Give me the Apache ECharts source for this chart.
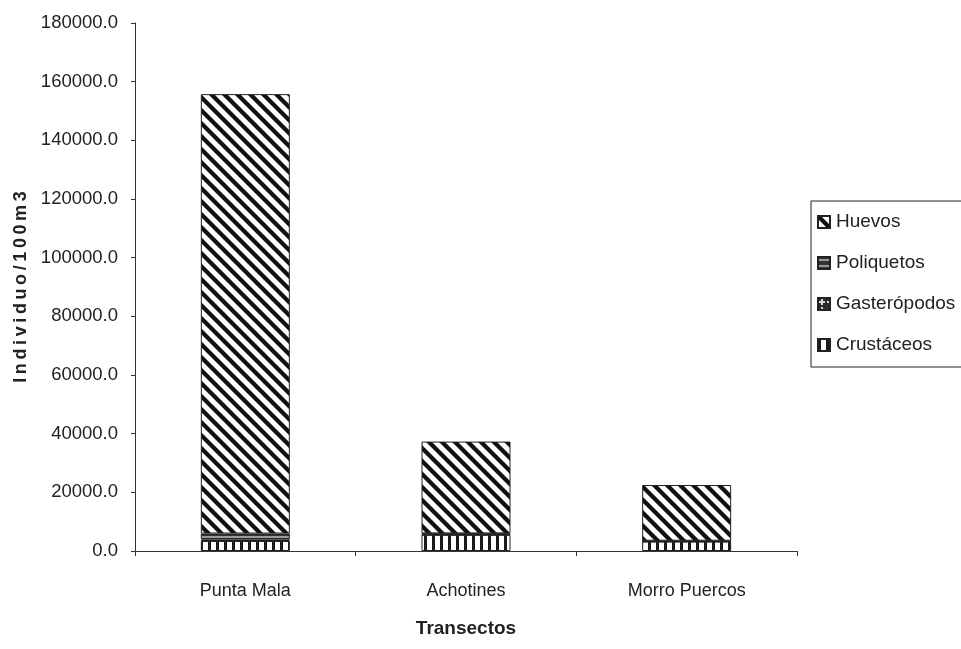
<!DOCTYPE html>
<html>
<head>
<meta charset="utf-8">
<script src="https://cdn.jsdelivr.net/npm/echarts@6/dist/echarts.min.js"></script>
<style>
  html, body { margin: 0; padding: 0; background: #fff; }
  #chart { width: 961px; height: 649px; }
</style>
</head>
<body>
<div id="chart"></div>
<script>
// Transect sites and abundance (individuals per 100 m3) by group
const transectos = ['Punta Mala', 'Achotines', 'Morro Puercos'];
const crustaceos = [3400, 5500, 3200];
const gasteropodos = [550, 200, 150];
const poliquetos = [2000, 300, 150];
const huevos = [149800, 31300, 19000];
const legendOrder = ['Huevos', 'Poliquetos', 'Gasterópodos', 'Crustáceos'];
const yTicks = { min: 0, max: 180000, step: 20000 };

const FONT = '"Liberation Sans", Arial, sans-serif';
const INK = '#222222';

// Hatch fills drawn on small tiles and repeated
function tile(w, h, draw) {
  const c = document.createElement('canvas');
  c.width = w; c.height = h;
  const g = c.getContext('2d');
  draw(g, w, h);
  return { image: c, repeat: 'repeat' };
}

const diagFill = tile(13, 13, (g, w, h) => {
  g.fillStyle = '#ffffff'; g.fillRect(0, 0, w, h);
  g.strokeStyle = '#111'; g.lineWidth = 4.2;
  for (let k = -1; k <= 1; k++) {
    g.beginPath();
    g.moveTo(-2, k * h - 2);
    g.lineTo(w + 2, h + k * h + 2);
    g.stroke();
  }
});

const vertFill = tile(8, 8, (g, w, h) => {
  g.fillStyle = '#ffffff'; g.fillRect(0, 0, w, h);
  g.fillStyle = '#1a1a1a'; g.fillRect(0, 0, 3, h);
});

const horizFill = tile(6, 6, (g, w, h) => {
  g.fillStyle = '#333'; g.fillRect(0, 0, w, h);
  g.fillStyle = '#9a9a9a'; g.fillRect(0, 2, w, 2);
});

const plusFill = tile(8, 8, (g, w, h) => {
  g.fillStyle = '#2a2a2a'; g.fillRect(0, 0, w, h);
  g.fillStyle = '#d8d8d8';
  g.fillRect(3, 1, 2, 6);
  g.fillRect(1, 3, 6, 2);
});

function barSeries(name, data, fill) {
  return {
    name, type: 'bar', stack: 'total', data,
    barWidth: 89,
    itemStyle: { color: fill, borderColor: '#222', borderWidth: 1 },
    emphasis: { disabled: true }
  };
}

const chart = echarts.init(document.getElementById('chart'), null, { renderer: 'canvas' });
chart.setOption({
  animation: false,
  backgroundColor: '#ffffff',
  grid: { left: 135, right: 164, top: 23, bottom: 98, containLabel: false },
  legend: {
    orient: 'vertical',
    left: 811, top: 201,
    data: legendOrder,
    itemWidth: 12, itemHeight: 12,
    itemGap: 21,
    padding: [11, 30, 12, 6],
    borderColor: '#222', borderWidth: 1,
    icon: 'rect',
    selectedMode: false,
    textStyle: { fontFamily: FONT, fontSize: 19, color: INK, lineHeight: 20, padding: [0, 0, 0, 1] }
  },
  xAxis: {
    type: 'category',
    data: transectos,
    name: 'Transectos',
    nameLocation: 'middle',
    nameGap: 68,
    nameTextStyle: { fontFamily: FONT, fontSize: 19, fontWeight: 'bold', color: INK },
    axisLine: { lineStyle: { color: '#333', width: 1 } },
    axisTick: { show: true, length: 5, lineStyle: { color: '#333' } },
    axisLabel: { fontFamily: FONT, fontSize: 18, color: INK, margin: 31 }
  },
  yAxis: {
    type: 'value',
    min: yTicks.min, max: yTicks.max, interval: yTicks.step,
    name: 'I\u2009n\u2009d\u2009i\u2009v\u2009i\u2009d\u2009u\u2009o\u2009/\u20091\u20090\u20090\u2009m\u20093',
    nameLocation: 'middle',
    nameGap: 105,
    nameTextStyle: { fontFamily: FONT, fontSize: 18, fontWeight: 'bold', color: INK },
    axisLine: { show: true, lineStyle: { color: '#333', width: 1 } },
    axisTick: { show: true, length: 4, lineStyle: { color: '#333' } },
    splitLine: { show: false },
    axisLabel: {
      fontFamily: FONT, fontSize: 18.5, color: INK, margin: 17,
      formatter: v => v.toFixed(1)
    }
  },
  series: [
    barSeries('Crustáceos', crustaceos, vertFill),
    barSeries('Gasterópodos', gasteropodos, plusFill),
    barSeries('Poliquetos', poliquetos, horizFill),
    barSeries('Huevos', huevos, diagFill)
  ]
});
</script>
</body>
</html>
